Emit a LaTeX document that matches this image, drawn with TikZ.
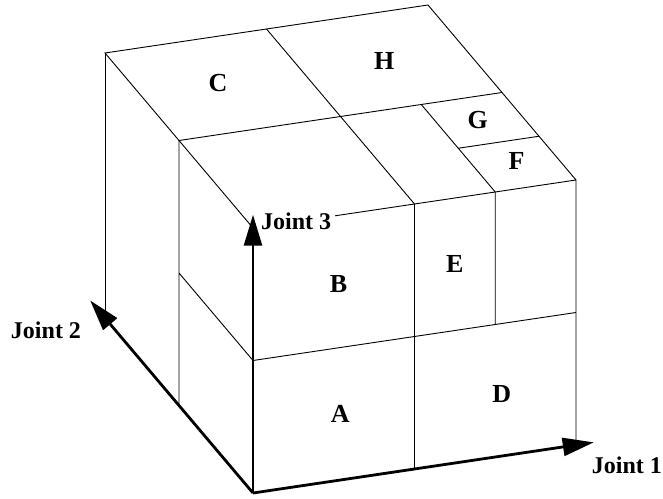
\documentclass[tikz,border=0pt]{standalone}
\usepackage{fontspec}
\setmainfont{Liberation Serif}
\usetikzlibrary{arrows.meta, positioning}

\tikzset{
  edge/.style={line width=0.9pt},
  axis/.style={line width=2.8pt, -{Triangle[length=31pt,width=18pt]}},
  cell/.style={font=\fontsize{26}{26}\selectfont\bfseries, inner sep=1pt},
  joint/.style={font=\fontsize{24}{24}\selectfont\bfseries, inner sep=2pt},
}

\begin{document}
\begin{tikzpicture}[x={(323pt,48pt)}, y={(-148pt,175pt)}, z={(0pt,265pt)}]
  \useasboundingbox (-253pt,-5pt) rectangle (410pt,493pt);

  % ---------- origin and axis tips ----------
  \coordinate (O)  at (0,0,0);
  \coordinate (j1) at (1.055,0,0);
  \coordinate (j2) at (0,1.1,0);
  \coordinate (j3) at (0,0,1.05);

  % ---------- outer edges ----------
  \draw[edge] (1,0,0) -- (1,0,1) -- (0,0,1) -- (0,1,1) -- (1,1,1) -- (1,0,1);
  \draw[edge] (0,1,1) -- (0,1,0);

  % ---------- front face ----------
  \draw[edge] (0.5,0,0) -- (0.5,0,1)
              (0,0,0.5) -- (1,0,0.5)
              (0.75,0,0.5) -- (0.75,0,1);

  % ---------- top face ----------
  \draw[edge] (0,0.5,1) -- (1,0.5,1)
              (0.5,0,1) -- (0.5,1,1)
              (0.75,0,1) -- (0.75,0.5,1)
              (0.75,0.25,1) -- (1,0.25,1);

  % ---------- left face ----------
  \draw[edge] (0,0.5,0) -- (0,0.5,1)
              (0,0,0.5) -- (0,0.5,0.5);

  % ---------- cell labels ----------
  \node[cell] (cA) at (0.27,0,0.25)  {A};
  \node[cell] (cB) at (0.265,0,0.74) {B};
  \node[cell] (cC) at (0.24,0.76,1)  {C};
  \node[cell] (cD) at (0.77,0,0.235) {D};
  \node[cell] (cE) at (0.625,0,0.75) {E};
  \node[cell] (cF) at (0.88,0.14,1)  {F};
  \node[cell] (cG) at (0.87,0.38,1)  {G};
  \node[cell] (cH) at (0.75,0.75,1)  {H};

  % ---------- joint axes ----------
  \node[joint, anchor=west] (lj1) at ([xshift=-4pt,yshift=-23pt]j1) {Joint 1};
  \node[joint, anchor=east] (lj2) at ([xshift=-7pt,yshift=-30pt]j2) {Joint 2};
  \node[joint, anchor=west, fill=white, inner sep=4pt] (lj3) at ([xshift=4pt,yshift=-7pt]j3) {Joint 3};

  \draw[axis] (O) -- (j1);
  \draw[axis] (O) -- (j2);
  \draw[axis] (O) -- (j3);

\end{tikzpicture}
\end{document}
